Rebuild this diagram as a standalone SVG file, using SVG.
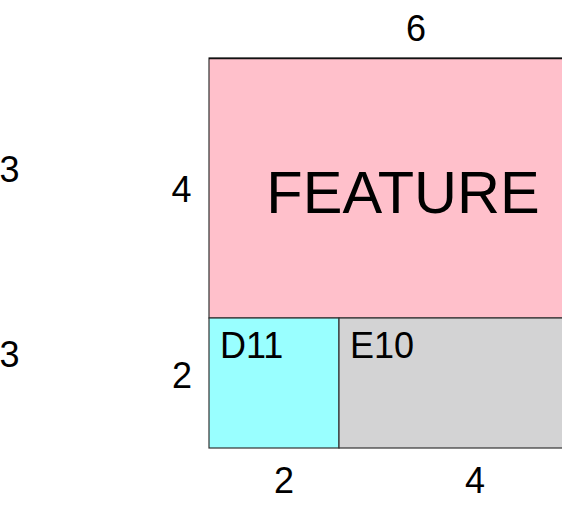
<svg xmlns="http://www.w3.org/2000/svg" width="562" height="511" viewBox="0 0 562 511">
<style>
.box{stroke:#333;stroke-width:1.2}
.num{font-family:"Liberation Sans",Arial,sans-serif;font-size:36px;fill:#000;text-anchor:middle}
.lbl{font-family:"Liberation Sans",Arial,sans-serif;font-size:36px;fill:#000}
</style>
<rect width="562" height="511" fill="#fff"/>
<g id="feature">
<rect class="box" x="209" y="58" width="390" height="260" fill="#FFC0CB"/>
<line x1="209" y1="58.5" x2="562" y2="58.5" stroke="#111" stroke-width="1.5"/>
<text x="403" y="213" font-family="Liberation Sans, Arial, sans-serif" font-size="59.5" text-anchor="middle">FEATURE</text>
</g>
<g id="d11">
<rect class="box" x="209" y="318" width="130" height="130" fill="#99FFFF"/>
<text class="lbl" x="220" y="357.5">D11</text>
</g>
<g id="e10">
<rect class="box" x="339" y="318" width="260" height="130" fill="#D3D3D4"/>
<text class="lbl" x="350" y="357.5">E10</text>
</g>
<g id="dimensions">
<text class="num" x="416" y="41">6</text>
<text class="num" x="181.5" y="202">4</text>
<text class="num" x="182" y="388">2</text>
<text class="num" x="9.5" y="181.5">3</text>
<text class="num" x="9.5" y="366.5">3</text>
<text class="num" x="284" y="493">2</text>
<text class="num" x="475" y="493">4</text>
</g>
<g id="connectors"></g>
</svg>
